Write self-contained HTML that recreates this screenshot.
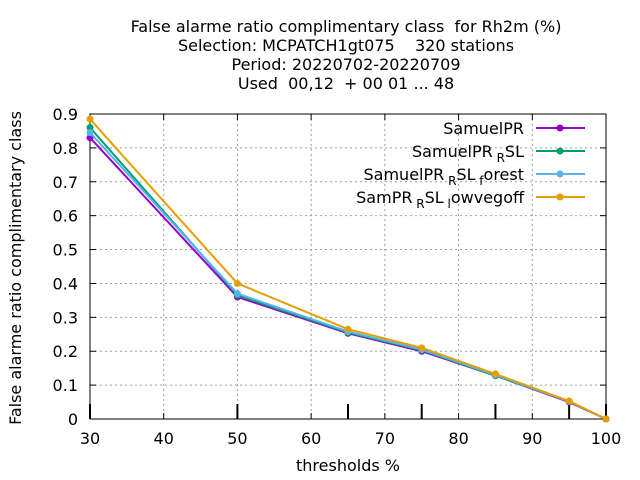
<!DOCTYPE html>
<html><head><meta charset="utf-8"><style>body{margin:0;background:#fff}svg{display:block;font-family:"DejaVu Sans",sans-serif}text{white-space:pre}</style></head>
<body>
<svg id="c" width="640" height="480" xmlns="http://www.w3.org/2000/svg">
<g id="title" font-size="16" text-anchor="middle" fill="#000">
<text x="346" y="32" xml:space="preserve">False alarme ratio complimentary class  for Rh2m (%)</text>
<text x="346" y="51" xml:space="preserve">Selection: MCPATCH1gt075    320 stations</text>
<text x="346" y="70" xml:space="preserve">Period: 20220702-20220709</text>
<text x="346" y="89" xml:space="preserve">Used  00,12  + 00 01 ... 48</text>
</g>
<g id="grid"></g><g id="axes"></g><g id="series"></g><g id="legend"></g>
<text x="348" y="471" font-size="16" text-anchor="middle">thresholds %</text>
<text transform="translate(21,268) rotate(-90)" font-size="16" text-anchor="middle">False alarme ratio complimentary class</text>
</svg>
<script>
const thresholds=[30,50,65,75,85,95,100];
const names=["SamuelPR","SamuelPR_RSL","SamuelPR_RSL_forest","SamPR_RSL_lowvegoff"];
const s1=[0.83,0.36,0.253,0.2,0.128,0.05,0];
const s2=[0.86,0.365,0.255,0.203,0.128,0.052,0];
const s3=[0.845,0.37,0.258,0.205,0.13,0.052,0];
const s4=[0.885,0.40,0.265,0.21,0.133,0.053,0];
const xTicks=[30,40,50,60,70,80,90,100];
const yTicks=[0,0.1,0.2,0.3,0.4,0.5,0.6,0.7,0.8,0.9];
const colors=["#9400d3","#009e73","#56b4e9","#e69f00"];
const L=90,R=606,T=114,B=419;
const X=v=>L+(v-30)/70*(R-L), Y=v=>B-v/0.9*(B-T);
const NS="http://www.w3.org/2000/svg";
function mk(p,t,a){const e=document.createElementNS(NS,t);for(const k in a)e.setAttribute(k,a[k]);document.getElementById(p).appendChild(e);return e;}
xTicks.forEach(v=>{if(v>30&&v<100){const g=mk('grid','line',{x1:X(v),x2:X(v),y1:T,y2:B,stroke:'#a0a0a0','stroke-dasharray':'2,3'});

}
mk('axes','line',{x1:X(v),x2:X(v),y1:B,y2:B-6,stroke:'#000'});mk('axes','line',{x1:X(v),x2:X(v),y1:T,y2:T+6,stroke:'#000'});
const t=mk('axes','text',{x:X(v),y:B+25,'font-size':16,'text-anchor':'middle'});t.textContent=v;

});
yTicks.forEach(v=>{if(v>0&&v<0.9){const g=mk('grid','line',{x1:L,x2:R,y1:Y(v),y2:Y(v),stroke:'#a0a0a0','stroke-dasharray':'2,3'});

}
mk('axes','line',{x1:L,x2:L+6,y1:Y(v),y2:Y(v),stroke:'#000'});mk('axes','line',{x1:R,x2:R-6,y1:Y(v),y2:Y(v),stroke:'#000'});
const t=mk('axes','text',{x:L-12,y:Y(v)+6,'font-size':16,'text-anchor':'end'});t.textContent=v;

});
thresholds.forEach(v=>{mk('axes','line',{x1:X(v),x2:X(v),y1:B,y2:B-15,stroke:'#000','stroke-width':2});});
const f=mk('axes','rect',{x:L,y:T,width:R-L,height:B-T,fill:'none',stroke:'#000'});


[s1,s2,s3,s4].forEach((s,i)=>{
const p=mk('series','polyline',{points:s.map((v,j)=>X(thresholds[j])+','+Y(v)).join(' '),fill:'none',stroke:colors[i],'stroke-width':2});


s.forEach((v,j)=>{const c=mk('series','circle',{cx:X(thresholds[j]),cy:Y(v),r:3.5,fill:colors[i]});

});
const ly=128+i*23;
mk('legend','line',{x1:536,x2:585,y1:ly,y2:ly,stroke:colors[i],'stroke-width':2});
mk('legend','circle',{cx:560,cy:ly,r:3.5,fill:colors[i]});
});
const lab=[["SamuelPR"],["SamuelPR","R","SL"],["SamuelPR","R","SL","f","orest"],["SamPR","R","SL","l","owvegoff"]];
lab.forEach((parts,i)=>{const t=mk('legend','text',{x:524,y:134+i*23,'font-size':16,'text-anchor':'end'});
parts.forEach((p,k)=>{const ts=document.createElementNS(NS,'tspan');ts.textContent=(k%2==1?' ':'')+p;if(k%2==1){ts.setAttribute('font-size','12');ts.setAttribute('dy','5');}else if(k>0){ts.setAttribute('dy','-5');}t.appendChild(ts);});

});
</script>
</body></html>
